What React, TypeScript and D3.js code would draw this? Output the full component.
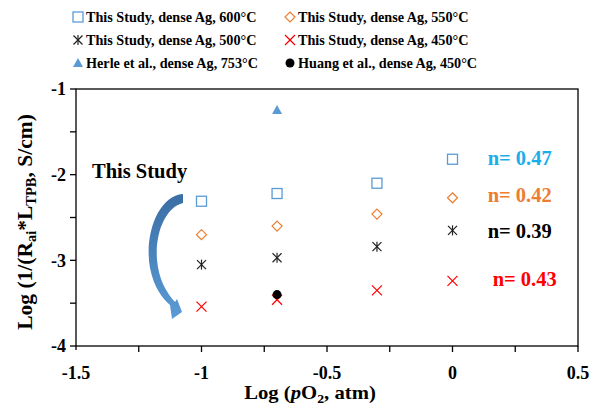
import React from "react";
import * as d3 from "d3";

const xVals = [-1, -0.699, -0.301, 0];
const s600 = [-2.31, -2.22, -2.1, -1.82];
const s550 = [-2.7, -2.6, -2.46, -2.27];
const s500 = [-3.05, -2.97, -2.84, -2.65];
const s450 = [-3.54, -3.46, -3.35, -3.24];
const herleX = [-0.699];
const herleY = [-1.245];
const huangX = [-0.699];
const huangY = [-3.4];
const xTicks = [-1.5, -1, -0.5, 0, 0.5];
const yTicks = [-1, -2, -3, -4];
const nLabels = ["n= 0.47", "n= 0.42", "n= 0.39", "n= 0.43"];
const nLabelY = [-1.8, -2.24, -2.65, -3.22];
const nLabelX = [0.14, 0.14, 0.14, 0.16];

const BLUE = "#5B9BD5";
const ORANGE = "#ED7D31";
const RED = "#FF0000";
const FONT = "'Liberation Serif', 'Times New Roman', serif";

const W = 592, H = 405;
const L = 76, R = 578, T = 89, B = 346;

function Marker({ type, x, y }: { type: string; x: number; y: number }) {
  switch (type) {
    case "square":
      return <rect x={x - 5} y={y - 5} width={10} height={10} fill="none" stroke={BLUE} strokeWidth={1.3} />;
    case "diamond":
      return <path d={`M${x},${y - 5}L${x + 5},${y}L${x},${y + 5}L${x - 5},${y}Z`} fill="none" stroke={ORANGE} strokeWidth={1.2} />;
    case "star":
      return (
        <g stroke="#222" strokeWidth={1.2}>
          <line x1={x - 4.5} y1={y - 4.5} x2={x + 4.5} y2={y + 4.5} />
          <line x1={x - 4.5} y1={y + 4.5} x2={x + 4.5} y2={y - 4.5} />
          <line x1={x} y1={y - 5} x2={x} y2={y + 5} />
        </g>
      );
    case "x":
      return (
        <g stroke={RED} strokeWidth={1.2}>
          <line x1={x - 5} y1={y - 5} x2={x + 5} y2={y + 5} />
          <line x1={x - 5} y1={y + 5} x2={x + 5} y2={y - 5} />
        </g>
      );
    case "tri":
      return <path d={`M${x},${y - 5}L${x + 5},${y + 4}L${x - 5},${y + 4}Z`} fill={BLUE} />;
    case "circle":
      return <circle cx={x} cy={y} r={4.5} fill="#000" />;
  }
  return null;
}

export default function App() {
  const x = d3.scaleLinear().domain([-1.5, 0.5]).range([L, R]);
  const y = d3.scaleLinear().domain([-4, -1]).range([B, T]);
  const xMinor = d3.range(-1.25, 0.5001, 0.25);
  const yMinor = d3.range(-4, -0.999, 0.5);

  const series: [string, number[], number[]][] = [
    ["square", xVals, s600],
    ["diamond", xVals, s550],
    ["star", xVals, s500],
    ["x", xVals, s450],
    ["tri", herleX, herleY],
    ["circle", huangX, huangY],
  ];
  const nColors = ["#1AAEEA", ORANGE, "#000", RED];

  const legend: [string, string, number, number][] = [
    ["square", "This Study, dense Ag, 600°C", 78, 17],
    ["diamond", "This Study, dense Ag, 550°C", 290, 17],
    ["star", "This Study, dense Ag, 500°C", 78, 40],
    ["x", "This Study, dense Ag, 450°C", 290, 40],
    ["tri", "Herle et al., dense Ag, 753°C", 78, 63],
    ["circle", "Huang et al., dense Ag, 450°C", 290, 63],
  ];

  return (
    <svg width={W} height={H} style={{ position: "absolute", left: 0, top: 0, background: "#fff" }} fontFamily={FONT} fontWeight="bold">
      <defs>
        <linearGradient id="arrowGrad" x1="0" y1="0" x2="0" y2="1">
          <stop offset="0" stopColor="#3A6EA5" />
          <stop offset="1" stopColor="#5B9BD5" />
        </linearGradient>
      </defs>
      {/* legend */}
      {legend.map(([t, label, lx, ly], i) => (
        <g key={i}>
          <Marker type={t} x={lx} y={ly} />
          <text x={lx + 8} y={ly} dy="0.35em" fontSize={14.2}>{label}</text>
        </g>
      ))}
      {/* frame */}
      <rect x={L} y={T} width={R - L} height={B - T} fill="none" stroke="#000" strokeWidth={1.3} />
      <line x1={L} x2={L} y1={B} y2={B + 4} stroke="#000" strokeWidth={1.3} />
      {/* y ticks */}
      {yMinor.map((v, i) => (
        <line key={i} x1={L - 6} x2={L} y1={y(v)} y2={y(v)} stroke="#000" strokeWidth={1.3} />
      ))}
      {yTicks.map((v, i) => (
        <text key={i} x={66} y={y(v)} dy="0.35em" textAnchor="end" fontSize={18}>{v}</text>
      ))}
      {/* x ticks */}
      {xMinor.map((v, i) => (
        <line key={i} x1={x(v)} x2={x(v)} y1={B} y2={B + 6} stroke="#000" strokeWidth={1.3} />
      ))}
      {xTicks.map((v, i) => (
        <text key={i} x={x(v)} y={379} textAnchor="middle" fontSize={18}>{v}</text>
      ))}
      {/* axis titles */}
      <g transform="translate(310,399) scale(1.15,1)">
        <text x={0} y={0} textAnchor="middle" fontSize={18}>
          Log (<tspan fontStyle="italic">p</tspan>O<tspan fontSize={12} dy={4}>2</tspan><tspan dy={-4}>, atm)</tspan>
        </text>
      </g>
      <text transform={`translate(32,222) rotate(-90)`} textAnchor="middle" fontSize={21.5}>
        Log (1/(R<tspan fontSize={14.5} dy={4}>ai</tspan><tspan dy={-4}>*L</tspan><tspan fontSize={14.5} dy={4}>TPB</tspan><tspan dy={-4}>, S/cm)</tspan>
      </text>
      {/* data */}
      {series.map(([t, xs, ys], si) =>
        xs.map((xv, i) => <Marker key={`${si}-${i}`} type={t} x={x(xv)} y={y(ys[i])} />)
      )}
      {/* n labels */}
      {nLabels.map((s, i) => (
        <text key={i} x={x(nLabelX[i])} y={y(nLabelY[i])} dy="0.35em" fontSize={20.5} fill={nColors[i]}>{s}</text>
      ))}
      {/* This Study annotation */}
      <text x={92} y={171} dy="0.35em" fontSize={20.5}>This Study</text>
      <path
        d="M183,194 C158,196 144,235 150,268 C154,288 163,299 170,305 L172,319 L182,312 L177,299 L175,302 C166,292 159,280 157,260 C155,232 166,207 183,203 Z"
        fill="url(#arrowGrad)"
      />
    </svg>
  );
}
